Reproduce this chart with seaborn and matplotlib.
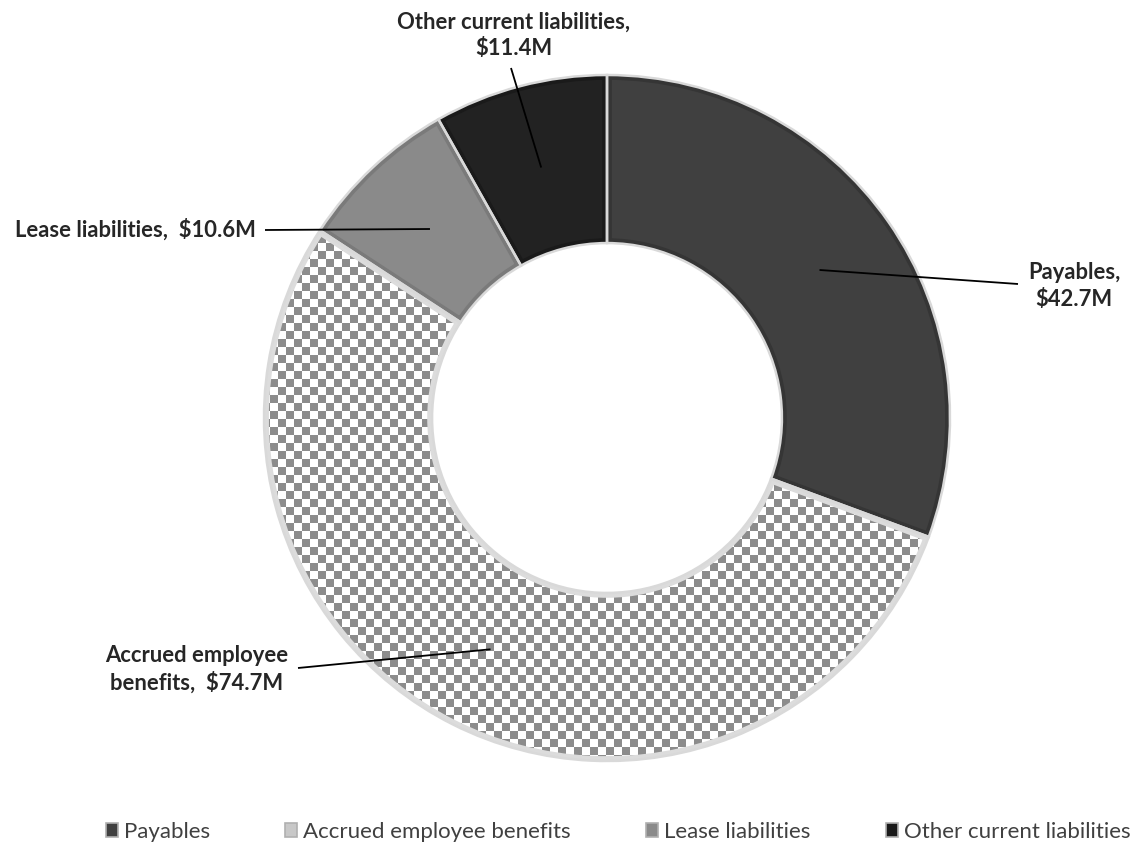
import numpy as np
import matplotlib
matplotlib.use("Agg")
import matplotlib.pyplot as plt
import matplotlib.patches as mpatches
from matplotlib.colors import ListedColormap
import seaborn as sns

# ---- data ----
categories = ["Payables", "Accrued employee benefits", "Lease liabilities", "Other current liabilities"]
values = [42.7, 74.7, 10.6, 11.4]
label_texts = ["Payables,\n$42.7M", "Accrued employee\nbenefits,  $74.7M",
               "Lease liabilities,  $10.6M", "Other current liabilities,\n$11.4M"]

sns.set_theme(style="white")
plt.rcParams["font.family"] = ["Lato", "DejaVu Sans"]

W, H = 1137, 851
fig = plt.figure(figsize=(W / 100, H / 100), dpi=100)
ax = fig.add_axes([0, 0, 1, 1])
cx, cy, R = 607, 418, 343


def d(px, py):
    return ((px - cx) / R, (cy - py) / R)


face = ["#404040", "#ffffff", "#8a8a8a", "#222222"]
wedges, _ = ax.pie(values, startangle=90, counterclock=False, radius=1, colors=face,
                   wedgeprops=dict(width=0.49, edgecolor="none"))

# checkerboard texture for accrued employee benefits
sq = 8 / R
n = int(np.ceil(2.2 / sq))
ii, jj = np.indices((n, n))
checker = (ii + jj) % 2
im = ax.imshow(checker, cmap=ListedColormap(["#8c8c8c", "#ffffff"]),
               extent=[-1.1, -1.1 + n * sq, -1.1, -1.1 + n * sq],
               interpolation="nearest", zorder=1.5)
im.set_clip_path(wedges[1])

# bevel + outline
bevel = ["#353535", "#dcdcdc", "#7a7a7a", "#1a1a1a"]
for w, bc in zip(wedges, bevel):
    inner = mpatches.Wedge(w.center, w.r, w.theta1, w.theta2, width=w.width,
                           facecolor="none", edgecolor=bc, linewidth=7, zorder=2)
    ax.add_patch(inner)
    inner.set_clip_path(w)
    outline = mpatches.Wedge(w.center, w.r, w.theta1, w.theta2, width=w.width,
                             facecolor="none", edgecolor="#d9d9d9", linewidth=1.8, zorder=3)
    ax.add_patch(outline)

# labels and leader lines
label_pos = [(1074, 286), (197, 669), (256, 230), (514, 35)]
line_end = [(1018, 284), (298, 668), (265, 230), (511, 68)]
ha = ["center", "center", "right", "center"]
for w, txt, lp, le, h in zip(wedges, label_texts, label_pos, line_end, ha):
    mid = np.deg2rad((w.theta1 + w.theta2) / 2)
    rmid = w.r - w.width / 2
    x0, y0 = rmid * np.cos(mid), rmid * np.sin(mid)
    x1, y1 = d(*le)
    ax.plot([x0, x1], [y0, y1], color="black", lw=1.3, zorder=4, solid_capstyle="butt")
    tx, ty = d(*lp)
    ax.text(tx, ty, txt, ha=h, va="center", fontsize=15.8, fontweight="bold",
            color="#262626", linespacing=1.3, multialignment="center")

ax.set_xlim(-cx / R, (W - cx) / R)
ax.set_ylim((cy - H) / R, cy / R)
ax.set_aspect("auto")
ax.axis("off")

legend_face = ["#404040", "#c8c8c8", "#8a8a8a", "#1a1a1a"]
handles = [mpatches.Patch(facecolor=c, edgecolor="#b0b0b0", linewidth=1.2) for c in legend_face]
fig.legend(handles, categories, loc="center", bbox_to_anchor=(618 / W, 1 - 832 / H),
           ncol=4, frameon=False, fontsize=16, labelcolor="#404040",
           handlelength=0.55, handleheight=0.55, handletextpad=0.25, columnspacing=3.4)

fig.savefig("out.png", dpi=100)
